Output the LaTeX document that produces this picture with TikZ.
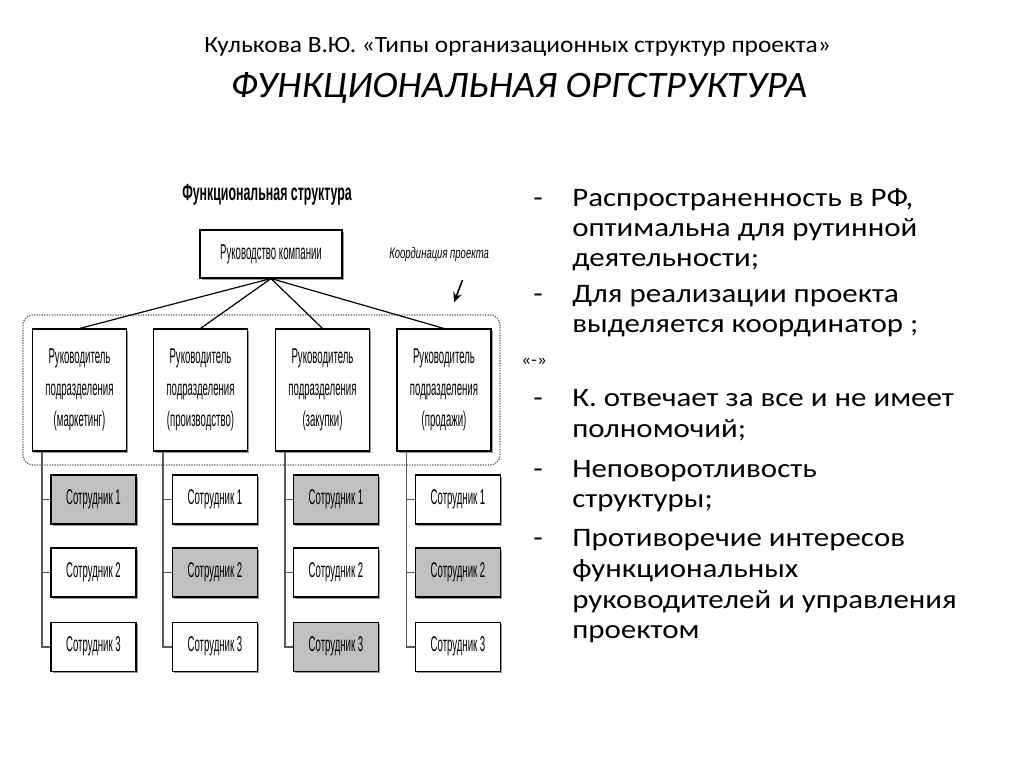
\documentclass[tikz,border=0pt]{standalone}
\usepackage{fontspec}
\setmainfont{Carlito}
\newfontfamily\bodyfont[FakeStretch=1.16]{Carlito}
\newfontfamily\titlefontA[FakeStretch=1.087]{Carlito}
\newfontfamily\titlefontB[FakeStretch=1.04]{Carlito}
\newfontfamily\narrowfont[FakeStretch=0.45]{Liberation Sans}
\newfontfamily\narrowtitle[FakeStretch=0.53]{Liberation Sans}
\newfontfamily\coordfont[FakeStretch=0.62]{Liberation Sans}
\usetikzlibrary{calc,arrows.meta,shadows}
\definecolor{shadegray}{RGB}{192,192,192}
\definecolor{linegray}{RGB}{90,90,90}
\begin{document}
\begin{tikzpicture}[x=0.75pt,y=-0.75pt,
  boxbase/.style={draw=black, line width=0.8pt, fill=white, inner sep=0pt, align=center,
    font=\narrowfont\fontsize{16}{23.5}\selectfont,
    drop shadow={shadow xshift=1.2pt, shadow yshift=-1.2pt, fill=gray, opacity=0.8}},
  topbox/.style={boxbase, minimum width=106.5pt, minimum height=36pt},
  mgrbox/.style={boxbase, minimum width=70.5pt, minimum height=91.5pt},
  empbox/.style={boxbase, minimum width=63.75pt, minimum height=36.75pt},
  shaded/.style={fill=shadegray},
  conn/.style={draw=black, line width=0.9pt},
  subconn/.style={draw=linegray, line width=1.3pt},
  bodytext/.style={anchor=base west, inner sep=0pt, font=\bodyfont\fontsize{20}{24}\selectfont},
]
\useasboundingbox[fill=white] (0,0) rectangle (1024,767);

% titles
\node[anchor=base, inner sep=0pt, font=\titlefontA\fontsize{17.5}{21}\selectfont] (t1) at (517.5,53)
  {Кулькова В.Ю. «Типы организационных структур проекта»};
\node[anchor=base, inner sep=0pt, font=\titlefontB\itshape\fontsize{28}{32}\selectfont] (t2) at (519,98)
  {ФУНКЦИОНАЛЬНАЯ ОРГСТРУКТУРА};

% diagram title
\node[anchor=base west, inner sep=0pt, font=\narrowtitle\bfseries\fontsize{17.5}{20}\selectfont] (dt) at (182,200)
  {Функциональная структура};

% coordination frame
\draw[densely dotted, draw=linegray, line width=0.9pt, rounded corners=7.5pt] (23,315) rectangle (500,465);

% top box
\node[topbox] (top) at (271,254) {Руководство компании};

% coordination label and arrow
\node[anchor=base west, inner sep=0pt, font=\coordfont\itshape\fontsize{11.5}{13}\selectfont] (coord) at (389,258.5)
  {Координация проекта};
\coordinate (arrS) at (462.5,280);
\coordinate (arrE) at (454,302.5);
\draw[conn, line width=1.2pt, -{Stealth[length=7.5pt,width=6.5pt]}] (arrS) -- (arrE);

% managers
\node[mgrbox] (m1) at (79.5,390) {Руководитель\\подразделения\\(маркетинг)};
\node[mgrbox] (m2) at (200.5,390) {Руководитель\\подразделения\\(производство)};
\node[mgrbox] (m3) at (322.5,390) {Руководитель\\подразделения\\(закупки)};
\node[mgrbox] (m4) at (444,390) {Руководитель\\подразделения\\(продажи)};

\foreach \m in {m1,m2,m3,m4} \draw[conn] (top.south) -- (\m.north);

% employees
\node[empbox, shaded] (e11) at (93.5,499.5) {Сотрудник 1};
\node[empbox] (e12) at (93.5,572.5) {Сотрудник 2};
\node[empbox] (e13) at (93.5,646.7) {Сотрудник 3};
\node[empbox] (e21) at (215,499.5) {Сотрудник 1};
\node[empbox, shaded] (e22) at (215,572.5) {Сотрудник 2};
\node[empbox] (e23) at (215,646.7) {Сотрудник 3};
\node[empbox, shaded] (e31) at (336,499.5) {Сотрудник 1};
\node[empbox] (e32) at (336,572.5) {Сотрудник 2};
\node[empbox, shaded] (e33) at (336,646.7) {Сотрудник 3};
\node[empbox] (e41) at (458,499.5) {Сотрудник 1};
\node[empbox, shaded] (e42) at (458,572.5) {Сотрудник 2};
\node[empbox] (e43) at (458,646.7) {Сотрудник 3};

\foreach \c in {1,2,3,4}{
  \coordinate (v\c) at ($(m\c.south west)+(10,0)$);
  \draw[subconn] (v\c) |- (e\c3.west);
  \draw[subconn] (v\c |- e\c1.west) -- (e\c1.west);
  \draw[subconn] (v\c |- e\c2.west) -- (e\c2.west);
}

% right-hand text
\foreach \y/\n in {206/d1, 302/d2, 406/d3, 477/d4, 546/d5}
  \node[bodytext] (\n) at (533,\y) {-};
\node[bodytext] (l1) at (572,206) {Распространенность в РФ,};
\node[bodytext] (l2) at (572,236) {оптимальна для рутинной};
\node[bodytext] (l3) at (572,266.5) {деятельности;};
\node[bodytext] (l4) at (572,302) {Для реализации проекта};
\node[bodytext] (l5) at (572,332) {выделяется координатор ;};
\node[anchor=base west, inner sep=0pt, font=\bodyfont\fontsize{12.5}{14}\selectfont] (l6) at (521,365) {«-»};
\node[bodytext] (l7) at (572,406) {К. отвечает за все и не имеет};
\node[bodytext] (l8) at (572,437) {полномочий;};
\node[bodytext] (l9) at (572,477) {Неповоротливость};
\node[bodytext] (l10) at (572,507) {структуры;};
\node[bodytext] (l11) at (572,546) {Противоречие интересов};
\node[bodytext] (l12) at (572,577) {функциональных};
\node[bodytext] (l13) at (572,608) {руководителей и управления};
\node[bodytext] (l14) at (572,638) {проектом};
\end{tikzpicture}
\end{document}
